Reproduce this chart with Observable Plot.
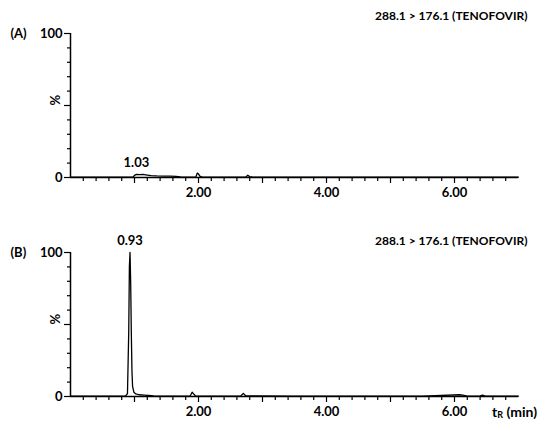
<!DOCTYPE html>
<html><head><meta charset="utf-8">
<script src="https://cdn.jsdelivr.net/npm/d3@7"></script>
<script src="https://cdn.jsdelivr.net/npm/@observablehq/plot@0.6"></script>
<style>
body{margin:0;background:#fff;}
#chart{width:550px;}
#chart svg{display:block;}
</style>
</head><body><div id="chart"></div>
<script>
// Panel A trace (retention time, min / relative intensity, %)
const timeA = [0.00,0.30,0.60,0.90,0.98,1.00,1.03,1.08,1.13,1.20,1.26,1.35,1.45,1.55,1.65,1.72,1.80,1.90,1.96,1.98,2.00,2.02,2.05,2.30,2.60,2.74,2.77,2.80,2.85,3.50,4.50,5.50,6.50,7.00];
const intensityA = [0.3,0.3,0.3,0.3,0.4,1.5,2.2,2.0,2.2,1.7,1.3,1.1,1.0,0.9,0.8,0.5,0.3,0.3,0.5,3.0,2.5,1.0,0.4,0.3,0.3,0.4,1.6,0.6,0.3,0.2,0.2,0.2,0.2,0.2];
// Panel B trace
const timeB = [0.00,0.30,0.60,0.86,0.89,0.91,0.92,0.93,0.94,0.95,0.96,0.97,0.99,1.02,1.08,1.15,1.22,1.30,1.60,1.87,1.90,1.92,1.95,2.30,2.66,2.70,2.74,3.50,4.50,5.50,6.08,6.13,6.20,6.40,6.44,6.48,6.70,7.00];
const intensityB = [0.3,0.3,0.3,0.3,2.0,45,90,100,80,45,18,7,3,1.8,1.2,1.0,0.8,0.4,0.3,0.4,3.0,2.0,0.5,0.3,0.4,2.2,0.4,0.3,0.2,0.3,1.2,1.0,0.3,0.4,0.9,0.3,0.2,0.2];

const panelLetters = ["(A)", "(B)"];
const transitionTitle = "288.1 > 176.1 (TENOFOVIR)";
const peakTimes = [1.03, 0.93];
const peakValues = [2.2, 100];
const peakLabels = ["1.03", "0.93"];
const xMajorTicks = [1, 2, 3, 4, 5, 6];
const xMinorTicks = [0.2,0.4,0.6,0.8,1.2,1.4,1.6,1.8,2.2,2.4,2.6,2.8,3.2,3.4,3.6,3.8,4.2,4.4,4.6,4.8,5.2,5.4,5.6,5.8,6.2,6.4,6.6,6.8];
const xLabelTicks = [2, 4, 6];
const yMinorTicks = [10,20,30,40,60,70,80,90];
const yMajorTicks = [0, 50, 100];
const yLabelTicks = [0, 100];
const yAxisLabel = "%";

const font = "Lato, 'Open Sans', sans-serif";

function panel(i, times, values, opts) {
  const data = times.map((t, k) => ({t, v: values[k]}));
  return Plot.plot({
    width: 550,
    height: opts.height,
    marginLeft: 70,
    marginRight: 32,
    marginTop: opts.marginTop,
    marginBottom: opts.marginBottom,
    style: {fontFamily: font, fontSize: "13px", fontWeight: "bold", color: "black", background: "white"},
    x: {domain: [0, 7]},
    y: {domain: [0, 100]},
    marks: [
      Plot.axisY(yMinorTicks, {tickSize: 3, tickFormat: () => "", label: null, strokeWidth: 1.2}),
      Plot.axisY(yMajorTicks, {tickSize: 6, tickPadding: 2, label: null, strokeWidth: 1.2,
        tickFormat: d => yLabelTicks.includes(d) ? String(d) : ""}),
      Plot.axisX(xMinorTicks, {tickSize: 4, tickFormat: () => "", label: null, strokeWidth: 1.2}),
      Plot.axisX(xMajorTicks, {tickSize: 6, tickPadding: 4, label: null, strokeWidth: 1.2,
        tickFormat: d => xLabelTicks.includes(d) ? d3.format(".2f")(d) : ""}),
      Plot.ruleY([0], {stroke: "black", strokeWidth: 1.6}),
      Plot.ruleX([0], {stroke: "black", strokeWidth: 1.5}),
      Plot.line(data, {x: "t", y: "v", stroke: "black", strokeWidth: 1.3}),
      Plot.text([yAxisLabel], {frameAnchor: "left", dx: -15, rotate: -90, fontSize: 13, fontWeight: "bold"}),
      Plot.text([{t: peakTimes[i], v: peakValues[i], s: peakLabels[i]}], {x: "t", y: "v", text: "s", dy: -12, fontSize: 13, fontWeight: "bold"}),
      Plot.text([transitionTitle], {frameAnchor: "top-right", dx: 9, dy: opts.titleDy, lineAnchor: "middle", fontSize: 12, fontWeight: "bold"}),
      Plot.text([panelLetters[i]], {frameAnchor: "top-left", dx: -60, lineAnchor: "middle", textAnchor: "start", fontSize: 13, fontWeight: "bold"})
    ]
  });
}

const chart = document.getElementById("chart");
const a = panel(0, timeA, intensityA, {height: 215, marginTop: 33, marginBottom: 38, titleDy: -17});
const b = panel(1, timeB, intensityB, {height: 216, marginTop: 37, marginBottom: 35, titleDy: -11});
chart.appendChild(a);
chart.appendChild(b);

// x-axis unit label with subscript on panel B
const lbl = d3.select(b).append("text")
  .attr("x", 492).attr("y", 216 - 35 + 17)
  .attr("text-anchor", "start")
  .attr("dominant-baseline", "middle")
  .attr("font-family", font).attr("font-size", 14).attr("font-weight", "bold").attr("fill", "black");
lbl.append("tspan").text("t");
lbl.append("tspan").attr("font-size", 9).attr("dy", 3).text("R");
lbl.append("tspan").attr("dy", -3).text(" (min)");
</script>
</body></html>
